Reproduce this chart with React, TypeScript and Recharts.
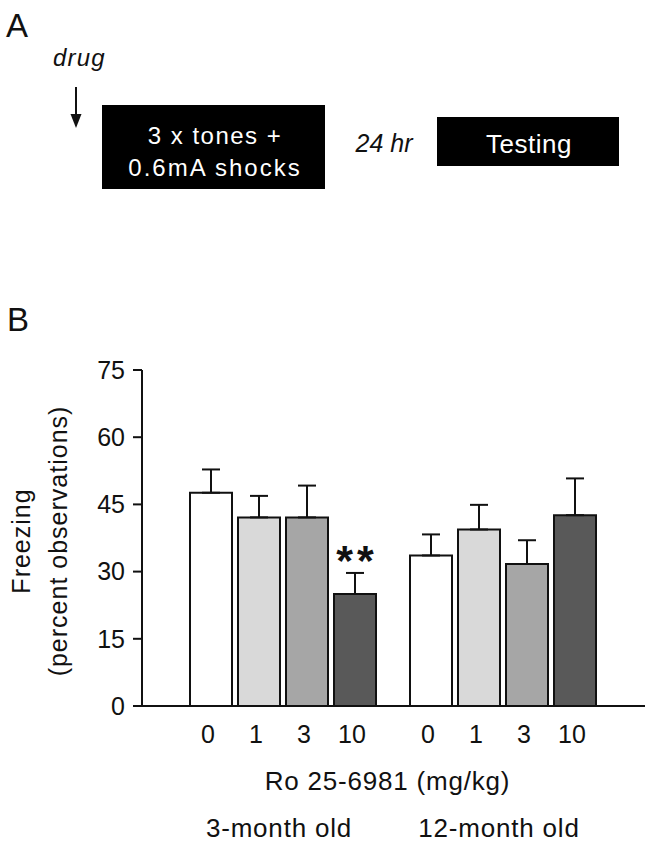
import React from "react";
import {
  BarChart,
  Bar,
  XAxis,
  YAxis,
  ErrorBar,
  LabelList,
  Label,
} from "recharts";

const groups = ["3-month old", "12-month old"];
const doses = ["0", "1", "3", "10"];
const fills = ["#ffffff", "#d9d9d9", "#a6a6a6", "#595959"];

// freezing % (mean) and SEM
const means3 = [47.6, 42.1, 42.1, 25.0];
const sem3 = [5.2, 4.8, 7.1, 4.7];
const means12 = [33.6, 39.4, 31.7, 42.6];
const sem12 = [4.7, 5.5, 5.3, 8.2];
const sig3 = ["", "", "", "**"];
const sig12 = ["", "", "", ""];

const yTicks = [0, 15, 30, 45, 60, 75];

const FONT = "'Liberation Sans', Arial, sans-serif";

const groupMeans = [means3, means12];
const groupSems = [sem3, sem12];
const groupSigs = [sig3, sig12];

const rows = groups.map((g, gi) => {
  const row: Record<string, any> = { group: g };
  doses.forEach((d, di) => {
    row["m" + d] = groupMeans[gi][di];
    row["e" + d] = [0, groupSems[gi][di]];
    row["s" + d] = groupSigs[gi][di];
  });
  return row;
});

const rectOf = (p: any) => {
  const v = p.viewBox && p.viewBox.width != null ? p.viewBox : p;
  return { x: +v.x, y: +v.y, w: +v.width, h: +v.height };
};

function doseLabel(dose: string) {
  return (p: any) => {
    const r = rectOf(p);
    return (
      <text
        x={r.x + r.w / 2 - 3}
        y={r.y + r.h + 37}
        textAnchor="middle"
        fontSize={25}
        fontFamily={FONT}
        fill="#111"
      >
        {dose}
      </text>
    );
  };
}

function sigLabel(dose: string, di: number) {
  return (p: any) => {
    if (!p.value) return null;
    const r = rectOf(p);
    const gi = p.index ?? 0;
    const mean = groupMeans[gi][di];
    const err = groupSems[gi][di];
    const errTop = r.y - (err * r.h) / mean;
    return (
      <text
        x={r.x + r.w / 2 + 2}
        y={errTop + 2}
        textAnchor="middle"
        fontSize={43}
        fontWeight="bold"
        fontFamily={FONT}
        fill="#111"
        letterSpacing={4}
      >
        {p.value}
      </text>
    );
  };
}

const GroupTick = (p: any) => (
  <text
    x={p.x - 4}
    y={p.y + 131}
    textAnchor="middle"
    fontSize={26}
    fontFamily={FONT}
    fill="#111"
    letterSpacing={0.8}
  >
    {p.payload.value}
  </text>
);

function PanelA() {
  return (
    <svg
      width={651}
      height={340}
      style={{ position: "absolute", left: 0, top: 0 }}
      fontFamily={FONT}
    >
      <text x={6} y={37} fontSize={33} fill="#111">
        A
      </text>
      <text x={53} y={66} fontSize={24} fontStyle="italic" fill="#111" letterSpacing={1.2}>
        drug
      </text>
      <line x1={76} y1={87} x2={76} y2={118} stroke="#111" strokeWidth={2} />
      <polygon points="70.5,114 81.5,114 76,128" fill="#111" />
      <rect x={102} y={105} width={223} height={84} fill="#000" />
      <text x={215} y={144} fontSize={24} fill="#fff" textAnchor="middle" letterSpacing={1.5}>
        3 x tones +
      </text>
      <text x={215} y={176} fontSize={24} fill="#fff" textAnchor="middle" letterSpacing={2}>
        0.6mA shocks
      </text>
      <text x={384} y={152} fontSize={25} fontStyle="italic" fill="#111" textAnchor="middle">
        24 hr
      </text>
      <rect x={437} y={117} width={182} height={49} fill="#000" />
      <text x={529} y={153} fontSize={26} fill="#fff" textAnchor="middle" letterSpacing={0.5}>
        Testing
      </text>
      <text x={7} y={331} fontSize={33} fill="#111">
        B
      </text>
    </svg>
  );
}

export default function App() {
  return (
    <div
      style={{
        position: "absolute",
        left: 0,
        top: 0,
        width: 651,
        height: 846,
        background: "#fff",
        overflow: "hidden",
      }}
    >
      <PanelA />
      <div style={{ position: "absolute", left: 0, top: 340 }}>
        <BarChart
          width={651}
          height={506}
          data={rows}
          margin={{ top: 30, right: 6, bottom: 0, left: 0 }}
          barSize={42}
          barGap={6}
        >
          <XAxis
            dataKey="group"
            height={140}
            padding={{ left: 31, right: 32 }}
            tickLine={false}
            tickSize={0}
            tickMargin={0}
            axisLine={{ stroke: "#111", strokeWidth: 2 }}
            tick={<GroupTick />}
            interval={0}
          >
            <Label
              content={(p: any) => {
                const v = p.viewBox;
                return (
                  <text
                    x={v.x + v.width / 2 - 6}
                    y={v.y + 84}
                    textAnchor="middle"
                    fontSize={26}
                    fontFamily={FONT}
                    fill="#111"
                    letterSpacing={0.8}
                  >
                    Ro 25-6981 (mg/kg)
                  </text>
                );
              }}
            />
          </XAxis>
          <YAxis
            width={142}
            domain={[0, 75]}
            ticks={yTicks}
            interval={0}
            tickSize={9}
            tickMargin={8}
            axisLine={{ stroke: "#111", strokeWidth: 2 }}
            tickLine={{ stroke: "#111", strokeWidth: 2 }}
            tick={{ fontSize: 25, fontFamily: FONT, fill: "#111" }}
          >
            <Label
              content={(p: any) => {
                const v = p.viewBox;
                const cy = v.y + v.height / 2 + 3;
                return (
                  <g fontFamily={FONT} fontSize={25} fill="#111" letterSpacing={1}>
                    <text x={30} y={cy} textAnchor="middle" transform={`rotate(-90 30 ${cy})`}>
                      Freezing
                    </text>
                    <text x={67} y={cy} textAnchor="middle" transform={`rotate(-90 67 ${cy})`}>
                      (percent observations)
                    </text>
                  </g>
                );
              }}
            />
          </YAxis>
          {doses.map((d, di) => (
            <Bar
              key={d}
              dataKey={"m" + d}
              fill={fills[di]}
              stroke="#111"
              strokeWidth={2}
              isAnimationActive={false}
            >
              <ErrorBar
                dataKey={"e" + d}
                direction="y"
                width={9}
                stroke="#111"
                strokeWidth={2}
              />
              <LabelList dataKey={"m" + d} content={doseLabel(d)} />
              <LabelList dataKey={"s" + d} content={sigLabel(d, di)} />
            </Bar>
          ))}
        </BarChart>
      </div>
    </div>
  );
}
